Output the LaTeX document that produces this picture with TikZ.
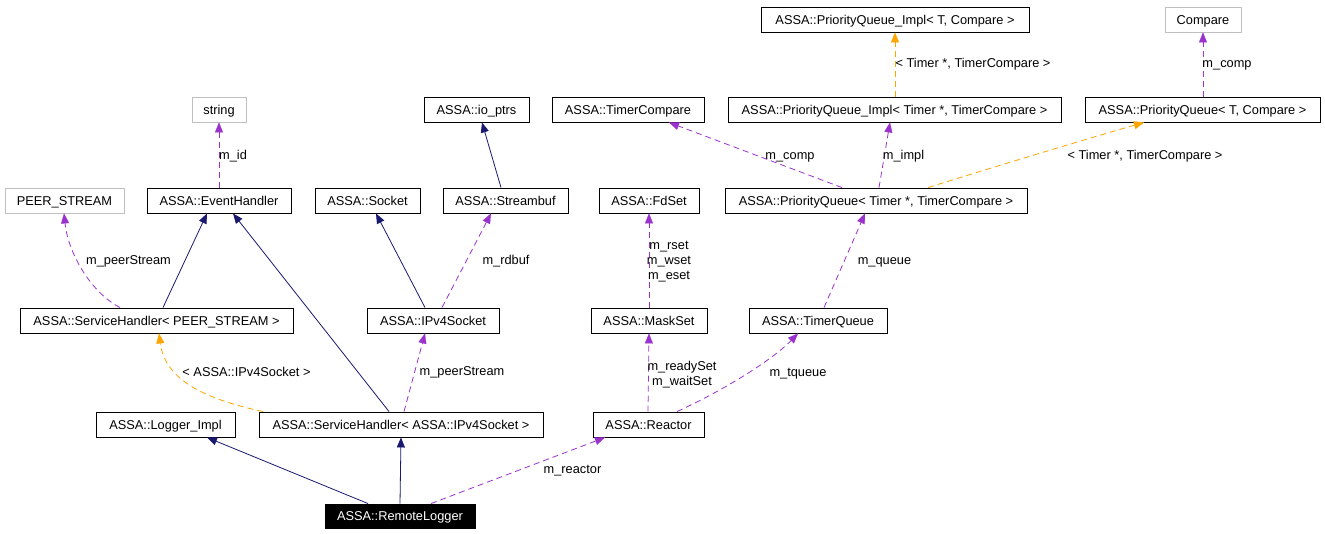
\documentclass[tikz,border=0pt]{standalone}
\usepackage{fontspec}
\setmainfont{Liberation Sans}
\usetikzlibrary{arrows.meta,calc}
\definecolor{inhcol}{RGB}{25,25,112}
\definecolor{usecol}{RGB}{154,50,205}
\definecolor{tplcol}{RGB}{255,165,0}
\definecolor{grayborder}{RGB}{191,191,191}
\begin{document}
\begin{tikzpicture}[x=1pt,y=-1pt,
  every node/.style={font=\fontsize{12.8}{15}\selectfont},
  cls/.style={draw=black,line width=0.9pt,minimum height=25pt,inner sep=0pt,fill=white,text height=10pt,text depth=0.8pt},
  ext/.style={cls,draw=grayborder},
  cur/.style={cls,fill=black,text=white},
  lblm/.style={inner sep=0pt,align=center},
  lbl/.style={lblm,text height=10pt,text depth=0.8pt},
  inh/.style={draw=inhcol,line width=0.8pt,-{Triangle[length=10pt,width=8pt,fill=inhcol]}},
  use/.style={draw=usecol,line width=0.8pt,dash pattern=on 6pt off 4pt,-{Triangle[length=10pt,width=8pt,fill=usecol,line width=0.1pt]}},
  tpl/.style={draw=tplcol,line width=0.8pt,dash pattern=on 6pt off 4pt,-{Triangle[length=10pt,width=8pt,fill=tplcol,line width=0.1pt]}}
]
\useasboundingbox[fill=white] (0,0) rectangle (1325,533);

% nodes
\node[cls,minimum width=268pt] (pqimplT) at (895,19.5) {ASSA::PriorityQueue\_Impl< T, Compare >};
\node[ext,minimum width=76pt] (compare) at (1203,19.5) {Compare};
\node[ext,minimum width=54pt] (string) at (219,109.5) {string};
\node[cls,minimum width=105pt] (ioptrs) at (476.5,109.5) {ASSA::io\_ptrs};
\node[cls,minimum width=152pt] (tcmp) at (628,109.5) {ASSA::TimerCompare};
\node[cls,minimum width=333pt] (pqimpl) at (894.5,109.5) {ASSA::PriorityQueue\_Impl< Timer *, TimerCompare >};
\node[cls,minimum width=235pt] (pqT) at (1202.5,109.5) {ASSA::PriorityQueue< T, Compare >};
\node[ext,minimum width=119pt] (peer) at (64.5,200.5) {PEER\_STREAM};
\node[cls,minimum width=144pt] (eh) at (219,200.5) {ASSA::EventHandler};
\node[cls,minimum width=105pt] (sock) at (367.5,200.5) {ASSA::Socket};
\node[cls,minimum width=125pt] (sbuf) at (505.5,200.5) {ASSA::Streambuf};
\node[cls,minimum width=100pt] (fdset) at (649,200.5) {ASSA::FdSet};
\node[cls,minimum width=302pt] (pq) at (876,200.5) {ASSA::PriorityQueue< Timer *, TimerCompare >};
\node[cls,minimum width=273pt] (shpeer) at (156.5,320.5) {ASSA::ServiceHandler< PEER\_STREAM >};
\node[cls,minimum width=132pt] (ipv4) at (433,320.5) {ASSA::IPv4Socket};
\node[cls,minimum width=116pt] (mask) at (649,320.5) {ASSA::MaskSet};
\node[cls,minimum width=138pt] (tq) at (818,320.5) {ASSA::TimerQueue};
\node[cls,minimum width=139pt] (logger) at (165.5,424.5) {ASSA::Logger\_Impl};
\node[cls,minimum width=284pt] (shipv4) at (401,424.5) {ASSA::ServiceHandler< ASSA::IPv4Socket >};
\node[cls,minimum width=111pt] (reactor) at (648.5,424.5) {ASSA::Reactor};
\node[cur,minimum width=150pt,minimum height=24pt] (remote) at (400,516) {ASSA::RemoteLogger};

% edges
\draw[use] (eh.north) -- (string.south);
\draw[use] ([xshift=-36.5pt]shpeer.north) .. controls (90,292) and (68,252) .. ([xshift=-0.5pt]peer.south);
\draw[inh] ([xshift=6.5pt]shpeer.north) -- ([xshift=-12pt]eh.south);
\draw[inh] ([xshift=-12pt]shipv4.north) -- ([xshift=14pt]eh.south);
\draw[inh] ([xshift=-8pt]ipv4.north) -- ([xshift=8.5pt]sock.south);
\draw[use] ([xshift=9pt]ipv4.north) -- ([xshift=-14.5pt]sbuf.south);
\draw[inh] ([xshift=-4.5pt]sbuf.north) -- ([xshift=5.5pt]ioptrs.south);
\draw[use] ([xshift=-34pt]pq.north) -- ([xshift=41pt]tcmp.south);
\draw[use] ([xshift=3pt]pq.north) -- ([xshift=-4.5pt]pqimpl.south);
\draw[tpl] ([xshift=52pt]pq.north) .. controls (1000,165) and (1100,135) .. ([xshift=-58.5pt]pqT.south);
\draw[tpl] ([xshift=0.5pt]pqimpl.north) -- (pqimplT.south);
\draw[use] ([xshift=0.5pt]pqT.north) -- (compare.south);
\draw[use] (mask.north) -- (fdset.south);
\draw[use] ([xshift=6pt]tq.north) -- ([xshift=-11pt]pq.south);
\draw[tpl] ([xshift=-138pt]shipv4.north) .. controls (200,398) and (165,378) .. ([xshift=2.5pt]shpeer.south);
\draw[use] ([xshift=3pt]shipv4.north) -- ([xshift=-8pt]ipv4.south);
\draw[use] ([xshift=-0.5pt]reactor.north) -- (mask.south);
\draw[use] ([xshift=28.5pt]reactor.north) .. controls (720,392) and (770,362) .. ([xshift=-20pt]tq.south);
\draw[inh] ([xshift=-32pt]remote.north) -- ([xshift=41.5pt]logger.south);
\draw[inh] (remote.north) -- (shipv4.south);
\draw[use] ([xshift=31pt]remote.north) -- ([xshift=-43.5pt]reactor.south);

% labels
\node[lbl] (l1) at (233,155) {m\_id};
\node[lbl] (l2) at (128.5,260) {m\_peerStream};
\node[lbl] (l3) at (506,260) {m\_rdbuf};
\node[lblm] (l4) at (669,262) {m\_rset\\m\_wset\\m\_eset};
\node[lbl] (l5) at (884.5,260) {m\_queue};
\node[lbl] (l6) at (790,155) {m\_comp};
\node[lbl] (l7) at (903.5,155) {m\_impl};
\node[lbl] (l8) at (1145,155) {< Timer *, TimerCompare >};
\node[lbl] (l9) at (973,63) {< Timer *, TimerCompare >};
\node[lbl] (l10) at (1227,63) {m\_comp};
\node[lbl] (l11) at (246.5,372) {< ASSA::IPv4Socket >};
\node[lbl] (l12) at (462,371) {m\_peerStream};
\node[lblm] (l13) at (682,374.5) {m\_readySet\\m\_waitSet};
\node[lbl] (l14) at (798,372) {m\_tqueue};
\node[lbl] (l15) at (572.5,469) {m\_reactor};
\end{tikzpicture}
\end{document}
